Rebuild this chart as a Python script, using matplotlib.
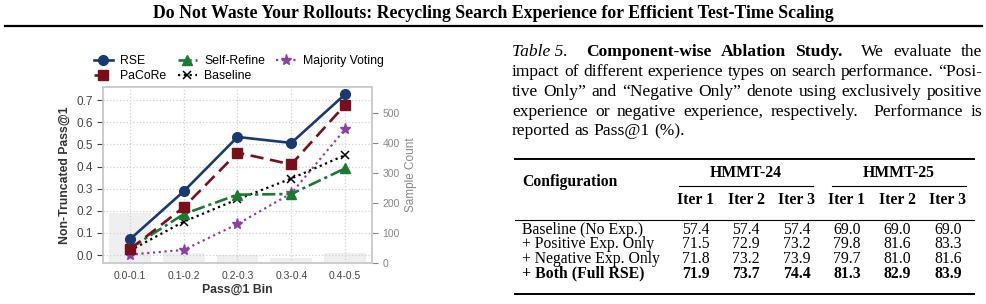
import matplotlib
matplotlib.use('Agg')
import matplotlib.pyplot as plt
import numpy as np

# ---- chart data ----
bins = ['0.0-0.1', '0.1-0.2', '0.2-0.3', '0.3-0.4', '0.4-0.5']
sample_count = [167, 35, 28, 18, 33]
rse = [0.071, 0.288, 0.534, 0.507, 0.727]
pacore = [0.026, 0.216, 0.463, 0.410, 0.679]
self_refine = [0.030, 0.185, 0.273, 0.276, 0.392]
baseline = [0.020, 0.151, 0.252, 0.346, 0.452]
majority = [0.002, 0.023, 0.140, 0.279, 0.569]

# ---- table data ----
configs = ['Baseline (No Exp.)', '+ Positive Exp. Only', '+ Negative Exp. Only', '+ Both (Full RSE)']
hmmt24 = [[57.4, 57.4, 57.4], [71.5, 72.9, 73.2], [71.8, 73.2, 73.9], [71.9, 73.7, 74.4]]
hmmt25 = [[69.0, 69.0, 69.0], [79.8, 81.6, 83.3], [79.7, 81.0, 81.6], [81.3, 82.9, 83.9]]
iters = ['Iter 1', 'Iter 2', 'Iter 3']

title = 'Do Not Waste Your Rollouts: Recycling Search Experience for Efficient Test-Time Scaling'

W, H = 987, 304
fig = plt.figure(figsize=(W / 100, H / 100), dpi=100)
fig.patch.set_facecolor('white')

def fx(x):
    return x / W

def fy(y):
    return 1 - y / H

SANS = 'Liberation Sans'
SERIF = 'Liberation Serif'

# header
fig.text(fx(493), fy(13), title, ha='center', va='center', family=SERIF,
         weight='bold', fontsize=12.8)
fig.add_artist(plt.Line2D([fx(5), fx(982)], [fy(26), fy(26)], color='black', lw=1.6))

# ---- chart ----
ax = fig.add_axes([fx(103), fy(263), (372 - 103) / W, (263 - 87) / H])
ax2 = ax.twinx()
x = np.arange(len(bins))

ax2.bar(x, sample_count, width=0.78, color='#efefef', zorder=1)
ax2.set_ylim(0, 588)
ax2.set_yticks([0, 100, 200, 300, 400, 500])
ax2.tick_params(axis='y', colors='#888888', labelsize=7.5, length=4, width=0.8)
ax2.set_ylabel('Sample Count', color='#888888', fontsize=8.5, family=SANS, labelpad=4)
for lab in ax2.get_yticklabels():
    lab.set_family(SANS)

ax.set_zorder(ax2.get_zorder() + 1)
ax.patch.set_visible(False)

ax.plot(x, rse, color='#183a73', ls='-', marker='o', ms=7, lw=1.9, label='RSE', zorder=6)
ax.plot(x, pacore, color='#7a0f1c', ls=(0, (5, 2.5)), marker='s', ms=6.5, lw=1.9, label='PaCoRe', zorder=5)
ax.plot(x, self_refine, color='#1b7a32', ls=(0, (5, 1.5, 1.2, 1.5)), marker='^', ms=7, lw=1.9,
        label='Self-Refine', zorder=4)
ax.plot(x, baseline, color='black', ls=(0, (1, 1.6)), marker='x', ms=6, lw=1.6, mew=1.1,
        label='Baseline', zorder=3)
ax.plot(x, majority, color='#8e3fa6', ls=(0, (1, 1.6)), marker='*', ms=8, lw=1.6,
        label='Majority Voting', zorder=2)

ax.set_xlim(-0.5, 4.5)
ax.set_ylim(-0.036, 0.76)
ax.set_yticks([0.0, 0.1, 0.2, 0.3, 0.4, 0.5, 0.6, 0.7])
ax.set_xticks(x)
ax.set_xticklabels(bins)
ax.grid(True, ls=':', color='#d0d0d0', lw=0.9)
ax.tick_params(axis='y', colors='#444444', labelsize=8.5, length=4, width=0.8)
ax.tick_params(axis='x', colors='#444444', labelsize=7.5, length=0, pad=6)
for lab in ax.get_xticklabels() + ax.get_yticklabels():
    lab.set_family(SANS)
ax.set_ylabel('Non-Truncated Pass@1', fontsize=8.8, weight='bold', family=SANS, color='#333333')
ax.set_xlabel('Pass@1 Bin', fontsize=8.8, weight='bold', family=SANS, color='#333333', labelpad=2)

for a in (ax, ax2):
    for s in a.spines.values():
        s.set_color('#cccccc')
        s.set_linewidth(1.2)

ax.legend(loc='center', bbox_to_anchor=(0.505, 1.105), ncol=3, frameon=False,
          prop={'family': SANS, 'size': 8.8}, handlelength=1.6, columnspacing=0.9,
          labelspacing=0.25, handletextpad=0.6, borderaxespad=0)

# ---- caption (justified) ----
fig.canvas.draw()
renderer = fig.canvas.get_renderer()

cap_lines = [
    [('Table 5.', 'italic'), ('', 'gap'), ('Component-wise', 'bold'), ('Ablation', 'bold'),
     ('Study.', 'bold'), ('', 'gap'), ('We', 'normal'), ('evaluate', 'normal'), ('the', 'normal')],
    [(w, 'normal') for w in 'impact of different experience types on search performance. \u201cPosi-'.split()],
    [(w, 'normal') for w in 'tive Only\u201d and \u201cNegative Only\u201d denote using exclusively positive'.split()],
    [(w, 'normal') for w in 'experience or negative experience, respectively.'.split()] + [('', 'gap')] +
    [(w, 'normal') for w in 'Performance is'.split()],
    [(w, 'normal') for w in 'reported as Pass@1 (%).'.split()],
]
cap_y = [52, 72, 92, 112, 131]
x0, x1 = 512, 982
cap_size = 12.6

def style_kw(st):
    if st == 'italic':
        return dict(style='italic')
    if st == 'bold':
        return dict(weight='bold')
    return {}

def text_width(s, **kw):
    t = fig.text(0, 0, s, family=SERIF, fontsize=cap_size, **kw)
    w = t.get_window_extent(renderer).width
    t.remove()
    return w

space = text_width('a b') - text_width('ab')

for li, (line, yy) in enumerate(zip(cap_lines, cap_y)):
    texts = []
    widths = []
    gaps = []
    prev_gap = False
    for w, s in line:
        if s == 'gap':
            prev_gap = True
            continue
        if texts:
            gaps.append(2.0 if prev_gap else 1.0)
        prev_gap = False
        t = fig.text(0, 0, w, family=SERIF, fontsize=cap_size, va='center', **style_kw(s))
        widths.append(t.get_window_extent(renderer).width)
        texts.append(t)
    if li < len(cap_lines) - 1:
        unit = (x1 - x0 - sum(widths)) / sum(gaps)
    else:
        unit = space
    cx = x0
    for i, t in enumerate(texts):
        t.set_position((fx(cx), fy(yy)))
        cx += widths[i]
        if i < len(gaps):
            cx += gaps[i] * unit

# ---- table ----
TS = 11.3
def rule(xa, xb, y, lw):
    fig.add_artist(plt.Line2D([fx(xa), fx(xb)], [fy(y), fy(y)], color='black', lw=lw))

rule(515, 974, 159, 1.4)
fig.text(fx(522), fy(182), 'Configuration', family=SERIF, weight='bold', fontsize=TS, va='center')
fig.text(fx(746), fy(173), 'HMMT-24', family=SERIF, weight='bold', fontsize=TS, va='center', ha='center')
fig.text(fx(899), fy(173), 'HMMT-25', family=SERIF, weight='bold', fontsize=TS, va='center', ha='center')
rule(679, 813, 186, 0.8)
rule(832, 966, 186, 0.8)
col_x = [696, 746, 797, 847, 897, 948]
for j, cxx in enumerate(col_x):
    fig.text(fx(cxx), fy(200), iters[j % 3], family=SERIF, weight='bold', fontsize=TS,
             va='center', ha='center')
rule(515, 974, 220, 0.8)
row_y = [229.5, 244.5, 259, 273.5]
for i, (name, yy) in enumerate(zip(configs, row_y)):
    wt = 'bold' if i == len(configs) - 1 else 'normal'
    fig.text(fx(522), fy(yy), name, family=SERIF, weight=wt, fontsize=TS, va='center')
    vals = hmmt24[i] + hmmt25[i]
    for j, v in enumerate(vals):
        fig.text(fx(col_x[j]), fy(yy), '%.1f' % v, family=SERIF, weight=wt, fontsize=TS,
                 va='center', ha='center')
rule(515, 974, 294, 1.4)

fig.savefig('out.png', dpi=100, facecolor='white')
